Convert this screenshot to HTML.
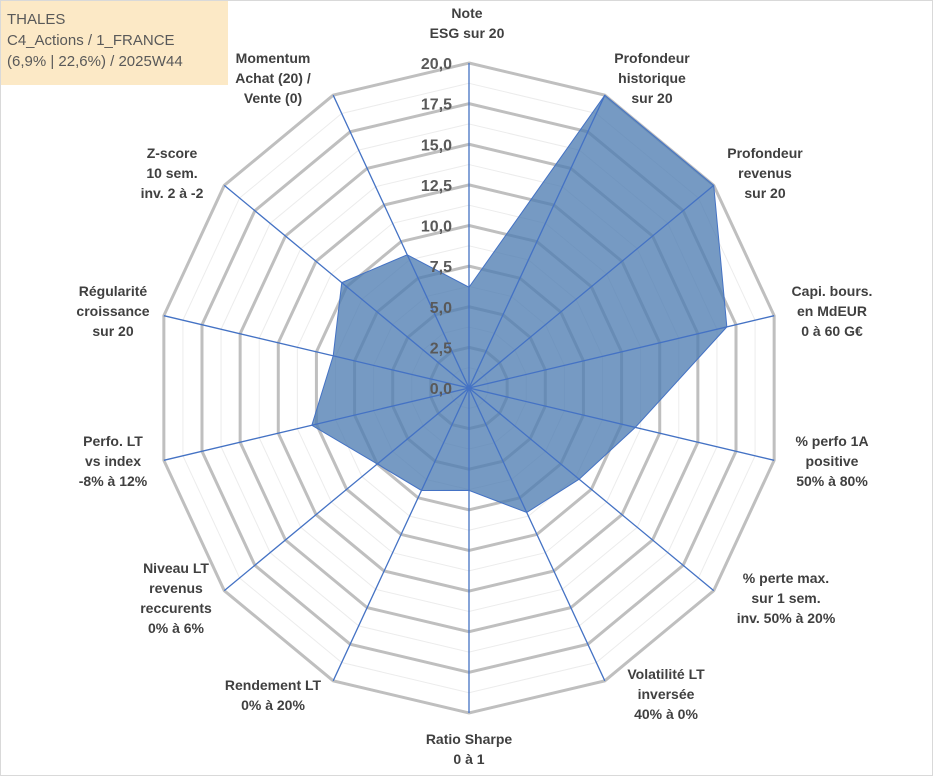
<!DOCTYPE html>
<html><head><meta charset="utf-8"><style>
html,body{margin:0;padding:0;background:#fff}
#wrap{position:relative;width:933px;height:776px;overflow:hidden;font-family:"Liberation Sans",sans-serif}
#frame{position:absolute;left:0;top:0;width:931px;height:774px;border:1px solid #d9d9d9}
#title{position:absolute;left:1px;top:1px;width:227px;height:84px;background:#fce9c6;color:#595959;font-size:15px;line-height:21px;padding:8px 0 0 6px;box-sizing:border-box}
.lbl{position:absolute;transform:translateX(-50%);text-align:center;font-weight:bold;font-size:14px;line-height:20px;color:#404040;white-space:nowrap}
</style></head><body>
<div id="wrap">
<div id="frame"></div>
<svg id="svg" width="933" height="776" style="position:absolute;left:0;top:0"></svg>
<div id="title">THALES<br>C4_Actions / 1_FRANCE<br>(6,9% | 22,6%) / 2025W44</div>
<div id="labels"></div>
</div>
<script>
const categories=["Note|ESG sur 20","Profondeur|historique|sur 20","Profondeur|revenus|sur 20","Capi. bours.|en MdEUR|0 à 60 G€","% perfo 1A|positive|50% à 80%","% perte max.|sur 1 sem.|inv. 50% à 20%","Volatilité LT|inversée|40% à 0%","Ratio Sharpe|0 à 1","Rendement LT|0% à 20%","Niveau LT|revenus|reccurents|0% à 6%","Perfo. LT|vs index|-8% à 12%","Régularité|croissance|sur 20","Z-score|10 sem.|inv. 2 à -2","Momentum|Achat (20) /|Vente (0)"];
const values=[6.2,20,20,16.9,10.9,9,8.5,6.3,7.0,7.5,10.3,8.9,10.4,9.1];
const tickValues=[0,2.5,5,7.5,10,12.5,15,17.5,20];
const tickLabels=["0,0","2,5","5,0","7,5","10,0","12,5","15,0","17,5","20,0"];
const labelPos=[[467,3],[652,48],[765,143],[832,281],[832,431],[786,568],[666,664],[469,729],[273,675],[176,558],[113,431],[113,281],[172,143],[273,48]];
const cx=469,cy=388,rx=313,ry=325,maxV=20;
const svg=document.getElementById('svg');const NS='http://www.w3.org/2000/svg';
const N=categories.length;
function pt(i,v){const a=2*Math.PI*i/N;return [cx+rx*v/maxV*Math.sin(a),cy-ry*v/maxV*Math.cos(a)];}
function mk(t,attrs){const e=document.createElementNS(NS,t);for(const k in attrs)e.setAttribute(k,attrs[k]);svg.appendChild(e);return e;}
// minor rings
for(let k=1;k<=16;k++){const v=k*1.25;const p=[];for(let i=0;i<N;i++)p.push(pt(i,v).join(','));
 const major=k%2===0;
 const e=mk('polygon',{points:p.join(' '),fill:'none',stroke:major?'#bfbfbf':'#ececec','stroke-width':major?3:1});
 
 }
// series
const sp=values.map((v,i)=>pt(i,v).join(',')).join(' ');
const poly=mk('polygon',{points:sp,fill:'#4f7db2','fill-opacity':'0.78',stroke:'#4472c4','stroke-width':1});


// axes
for(let i=0;i<N;i++){const p=pt(i,maxV);const e=mk('line',{x1:cx,y1:cy,x2:p[0],y2:p[1],stroke:'#4472c4','stroke-width':1.3});
 
 }
// ticks
tickValues.forEach((v,j)=>{const t=mk('text',{x:452,y:cy-ry*v/maxV+6,'text-anchor':'end','font-size':16,'font-weight':'bold',fill:'#595959','font-family':'Liberation Sans, sans-serif'});t.textContent=tickLabels[j];
 
 });
// labels
const L=document.getElementById('labels');
categories.forEach((c,i)=>{const d=document.createElement('div');d.className='lbl';d.style.left=labelPos[i][0]+'px';d.style.top=labelPos[i][1]+'px';d.innerHTML=c.split('|').join('<br>');
 
 
 L.appendChild(d);});
</script>
</body></html>
